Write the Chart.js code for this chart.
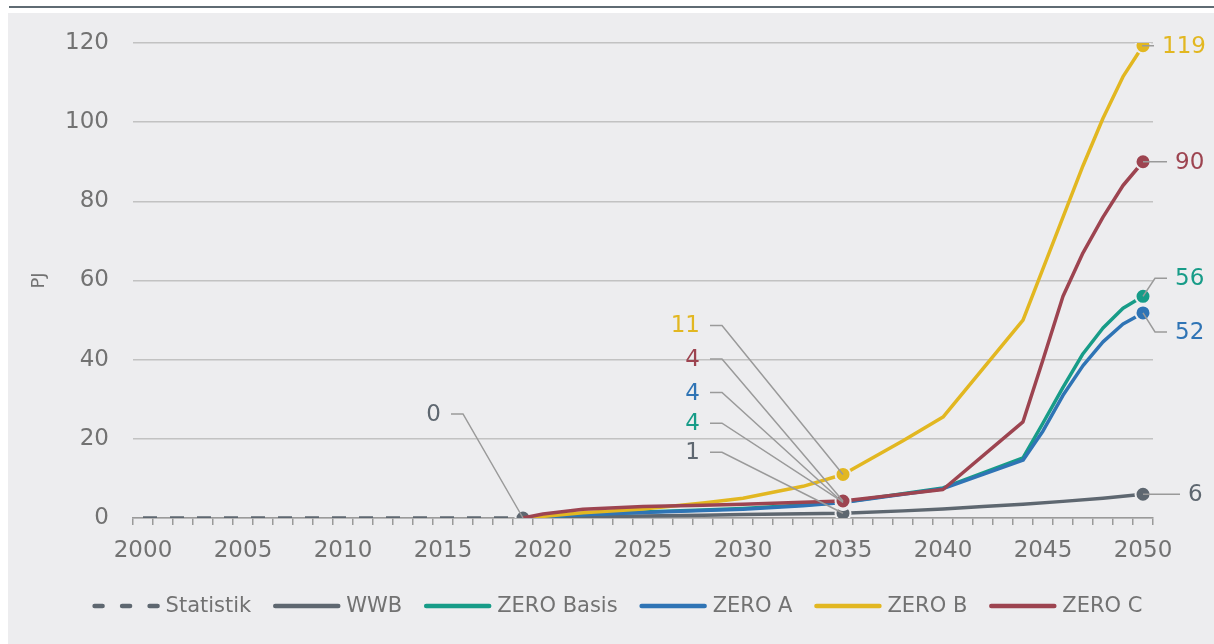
<!DOCTYPE html>
<html>
<head>
<meta charset="utf-8">
<script src="https://cdn.jsdelivr.net/npm/chart.js@4.4.1/dist/chart.umd.min.js"></script>
<style>
  html, body { margin: 0; padding: 0; background: #ffffff; }
  #wrap { width: 1214px; height: 644px; position: relative; }
  canvas { display: block; }
</style>
</head>
<body>
<div id="wrap"><canvas id="c" width="1214" height="644"></canvas></div>
<script>
// ---- categories ----
const years = ['2000','2001','2002','2003','2004','2005','2006','2007','2008','2009',
  '2010','2011','2012','2013','2014','2015','2016','2017','2018','2019',
  '2020','2021','2022','2023','2024','2025','2026','2027','2028','2029',
  '2030','2031','2032','2033','2034','2035','2036','2037','2038','2039',
  '2040','2041','2042','2043','2044','2045','2046','2047','2048','2049','2050'];
const xTickLabels = ['2000','2005','2010','2015','2020','2025','2030','2035','2040','2045','2050'];
const yTicks = [0, 20, 40, 60, 80, 100, 120];

// ---- series (years + values) ----
const statistikYears  = ['2000','2001','2002','2003','2004','2005','2006','2007','2008','2009','2010','2011','2012','2013','2014','2015','2016','2017','2018','2019'];
const statistikValues = [0,0,0,0,0,0,0,0,0,0,0,0,0,0,0,0,0,0,0,0];

const wwbYears  = ['2019','2022','2025','2028','2030','2033','2035','2038','2040','2042','2044','2046','2048','2050'];
const wwbValues = [0, 0.3, 0.5, 0.7, 0.9, 1.1, 1.2, 1.8, 2.3, 2.9, 3.5, 4.2, 5.0, 6];

const zeroBasisYears  = ['2019','2020','2022','2025','2028','2030','2033','2035','2040','2044','2045','2046','2047','2048','2049','2050'];
const zeroBasisValues = [0, 0.3, 0.9, 1.5, 2.0, 2.4, 3.3, 4.0, 7.6, 15.2, 24, 33, 41.5, 48, 53, 56];

const zeroAYears  = ['2019','2020','2022','2025','2028','2030','2033','2035','2040','2044','2045','2046','2047','2048','2049','2050'];
const zeroAValues = [0, 0.3, 0.8, 1.4, 1.9, 2.2, 3.1, 3.9, 7.4, 14.6, 22, 31, 38.5, 44.5, 49, 51.8];

const zeroBYears  = ['2019','2020','2022','2025','2028','2030','2033','2035','2038','2040','2044','2045','2046','2047','2048','2049','2050'];
const zeroBValues = [0, 0.4, 1.3, 2.3, 3.8, 5.0, 8.0, 11, 19.5, 25.5, 50, 63, 76, 89, 101, 111.5, 119.3];

const zeroCYears  = ['2019','2020','2022','2025','2028','2030','2033','2035','2040','2044','2045','2046','2047','2048','2049','2050'];
const zeroCValues = [0, 1.0, 2.2, 2.9, 3.2, 3.5, 4.0, 4.3, 7.2, 24.3, 40, 56, 67, 76, 84, 90];

const seriesNames = ['Statistik','WWB','ZERO Basis','ZERO A','ZERO B','ZERO C'];
const colors = {
  gray: '#5E6770', teal: '#179C88', blue: '#2F74B5', yellow: '#E2B721', red: '#9D4450'
};
const panelColor = '#EDEDEF';
const textGray = '#727272';
const FONT = '"DejaVu Sans", "Noto Sans", sans-serif';

function pts(ys, vs) { return ys.map((y, i) => ({ x: y, y: vs[i] })); }
function markerRadius(markerYears) {
  return ctx => (ctx.raw && markerYears.includes(ctx.raw.x)) ? 7.5 : 0;
}

const baseLine = {
  borderWidth: 3.5,
  tension: 0,
  borderJoinStyle: 'round',
  pointBorderColor: panelColor,
  pointBorderWidth: 2,
  pointHoverRadius: 0,
  fill: false
};

const datasets = [
  Object.assign({}, baseLine, { label: seriesNames[0], data: pts(statistikYears, statistikValues),
    borderColor: colors.gray, backgroundColor: colors.gray, pointBackgroundColor: colors.gray,
    borderDash: [14, 13], pointRadius: markerRadius(['2019']), order: 5 }),
  Object.assign({}, baseLine, { label: seriesNames[1], data: pts(wwbYears, wwbValues),
    borderColor: colors.gray, backgroundColor: colors.gray, pointBackgroundColor: colors.gray,
    pointRadius: markerRadius(['2035','2050']), order: 4 }),
  Object.assign({}, baseLine, { label: seriesNames[2], data: pts(zeroBasisYears, zeroBasisValues),
    borderColor: colors.teal, backgroundColor: colors.teal, pointBackgroundColor: colors.teal,
    pointRadius: markerRadius(['2035','2050']), order: 3 }),
  Object.assign({}, baseLine, { label: seriesNames[3], data: pts(zeroAYears, zeroAValues),
    borderColor: colors.blue, backgroundColor: colors.blue, pointBackgroundColor: colors.blue,
    pointRadius: markerRadius(['2035','2050']), order: 2 }),
  Object.assign({}, baseLine, { label: seriesNames[4], data: pts(zeroBYears, zeroBValues),
    borderColor: colors.yellow, backgroundColor: colors.yellow, pointBackgroundColor: colors.yellow,
    pointRadius: markerRadius(['2035','2050']), order: 1 }),
  Object.assign({}, baseLine, { label: seriesNames[5], data: pts(zeroCYears, zeroCValues),
    borderColor: colors.red, backgroundColor: colors.red, pointBackgroundColor: colors.red,
    pointRadius: markerRadius(['2035','2050']), order: 0 })
];

// callouts: dataset index, category, text, pixel offset of text anchor from point, side
const callouts = [
  { ds: 0, year: '2019', text: '0',   dx: -82,  dy: -104, side: 'left'  },
  { ds: 4, year: '2035', text: '11',  dx: -143, dy: -149, side: 'left'  },
  { ds: 5, year: '2035', text: '4',   dx: -143, dy: -142, side: 'left'  },
  { ds: 3, year: '2035', text: '4',   dx: -143, dy: -110, side: 'left'  },
  { ds: 2, year: '2035', text: '4',   dx: -143, dy: -79,  side: 'left'  },
  { ds: 1, year: '2035', text: '1',   dx: -143, dy: -61,  side: 'left'  },
  { ds: 4, year: '2050', text: '119', dx: 19,   dy: 0,    side: 'right' },
  { ds: 5, year: '2050', text: '90',  dx: 32,   dy: 0,    side: 'right' },
  { ds: 2, year: '2050', text: '56',  dx: 32,   dy: -18,  side: 'right' },
  { ds: 3, year: '2050', text: '52',  dx: 32,   dy: 19,   side: 'right' },
  { ds: 1, year: '2050', text: '6',   dx: 45,   dy: 0,    side: 'right' }
];

const bgPlugin = {
  id: 'bg',
  beforeDraw(chart) {
    const c = chart.ctx;
    c.save();
    c.fillStyle = '#ffffff';
    c.fillRect(0, 0, chart.width, chart.height);
    c.fillStyle = panelColor;
    c.fillRect(8, 13, chart.width - 8, chart.height - 13);
    c.fillStyle = '#5F6B73';
    c.fillRect(9, 6, chart.width - 9, 2);
    c.restore();
  }
};

const calloutPlugin = {
  id: 'callouts',
  afterDatasetsDraw(chart) {
    const c = chart.ctx;
    const xs = chart.scales.x, ysc = chart.scales.y;
    c.save();
    c.font = '23px ' + FONT;
    c.textBaseline = 'middle';
    callouts.forEach(co => {
      const ds = chart.data.datasets[co.ds];
      const p = ds.data.find(d => d.x === co.year);
      const px = xs.getPixelForValue(years.indexOf(co.year));
      const py = ysc.getPixelForValue(p.y);
      const tx = px + co.dx, ty = py + co.dy;
      let elbowX, endX;
      if (co.side === 'left') { elbowX = tx + 22; endX = tx + 10; c.textAlign = 'right'; }
      else { elbowX = tx - 20; endX = tx - 8; c.textAlign = 'left'; }
      c.strokeStyle = '#9A9A9A';
      c.lineWidth = 1.5;
      c.beginPath();
      c.moveTo(px, py);
      c.lineTo(elbowX, ty);
      c.lineTo(endX, ty);
      c.stroke();
      c.fillStyle = ds.borderColor;
      c.fillText(co.text, tx, ty + 1);
    });
    c.restore();
  }
};

// custom legend drawn below the axis
const legendCfg = { centerX: 617, y: 606, sample: 68, gap: 6, spacing: 21, fontSize: 21 };
const legendPlugin = {
  id: 'customLegend',
  afterDraw(chart) {
    const c = chart.ctx;
    c.save();
    c.font = legendCfg.fontSize + 'px ' + FONT;
    c.textBaseline = 'middle';
    c.textAlign = 'left';
    const items = chart.data.datasets.map(ds => ({ ds, w: c.measureText(ds.label).width }));
    let total = 0;
    items.forEach((it, i) => { total += legendCfg.sample + legendCfg.gap + it.w + (i < items.length - 1 ? legendCfg.spacing : 0); });
    let x = legendCfg.centerX - total / 2;
    const y = legendCfg.y;
    items.forEach(it => {
      c.strokeStyle = it.ds.borderColor;
      c.lineWidth = 4.5;
      c.lineCap = 'round';
      c.setLineDash(it.ds.borderDash ? [8, 19.5] : []);
      c.beginPath();
      c.moveTo(x + 3, y);
      c.lineTo(x + legendCfg.sample - 2, y);
      c.stroke();
      c.setLineDash([]);
      c.fillStyle = textGray;
      c.fillText(it.ds.label, x + legendCfg.sample + legendCfg.gap, y + 1);
      x += legendCfg.sample + legendCfg.gap + it.w + legendCfg.spacing;
    });
    c.restore();
  }
};

new Chart(document.getElementById('c'), {
  type: 'line',
  data: { labels: years, datasets: datasets },
  options: {
    responsive: false,
    animation: false,
    events: [],
    layout: { padding: { top: 43, right: 61, bottom: 60, left: 0 } },
    plugins: {
      tooltip: { enabled: false },
      legend: { display: false }
    },
    scales: {
      x: {
        type: 'category',
        offset: true,
        grid: { offset: true, drawOnChartArea: false, drawTicks: true, tickLength: 7, color: '#9A9A9A', lineWidth: 1.5 },
        border: { display: true, color: '#9A9A9A', width: 1.5 },
        ticks: {
          autoSkip: false, maxRotation: 0, minRotation: 0, padding: 12,
          color: textGray, font: { family: FONT, size: 23 },
          callback: function (v) { const l = this.getLabelForValue(v); return xTickLabels.includes(l) ? l : ''; }
        },
        afterFit: s => { s.height = 66; }
      },
      y: {
        min: 0, max: 120,
        afterBuildTicks: s => { s.ticks = yTicks.map(v => ({ value: v })); },
        grid: { color: '#C2C2C2', lineWidth: 1.5, drawTicks: false },
        border: { display: false },
        ticks: { padding: 24, color: textGray, font: { family: FONT, size: 23 } },
        title: { display: true, text: 'PJ', color: textGray, font: { family: FONT, size: 18 }, padding: { top: 29, bottom: 0 } },
        afterFit: s => { s.width = 133; }
      }
    }
  },
  plugins: [bgPlugin, calloutPlugin, legendPlugin]
});
</script>
</body>
</html>
